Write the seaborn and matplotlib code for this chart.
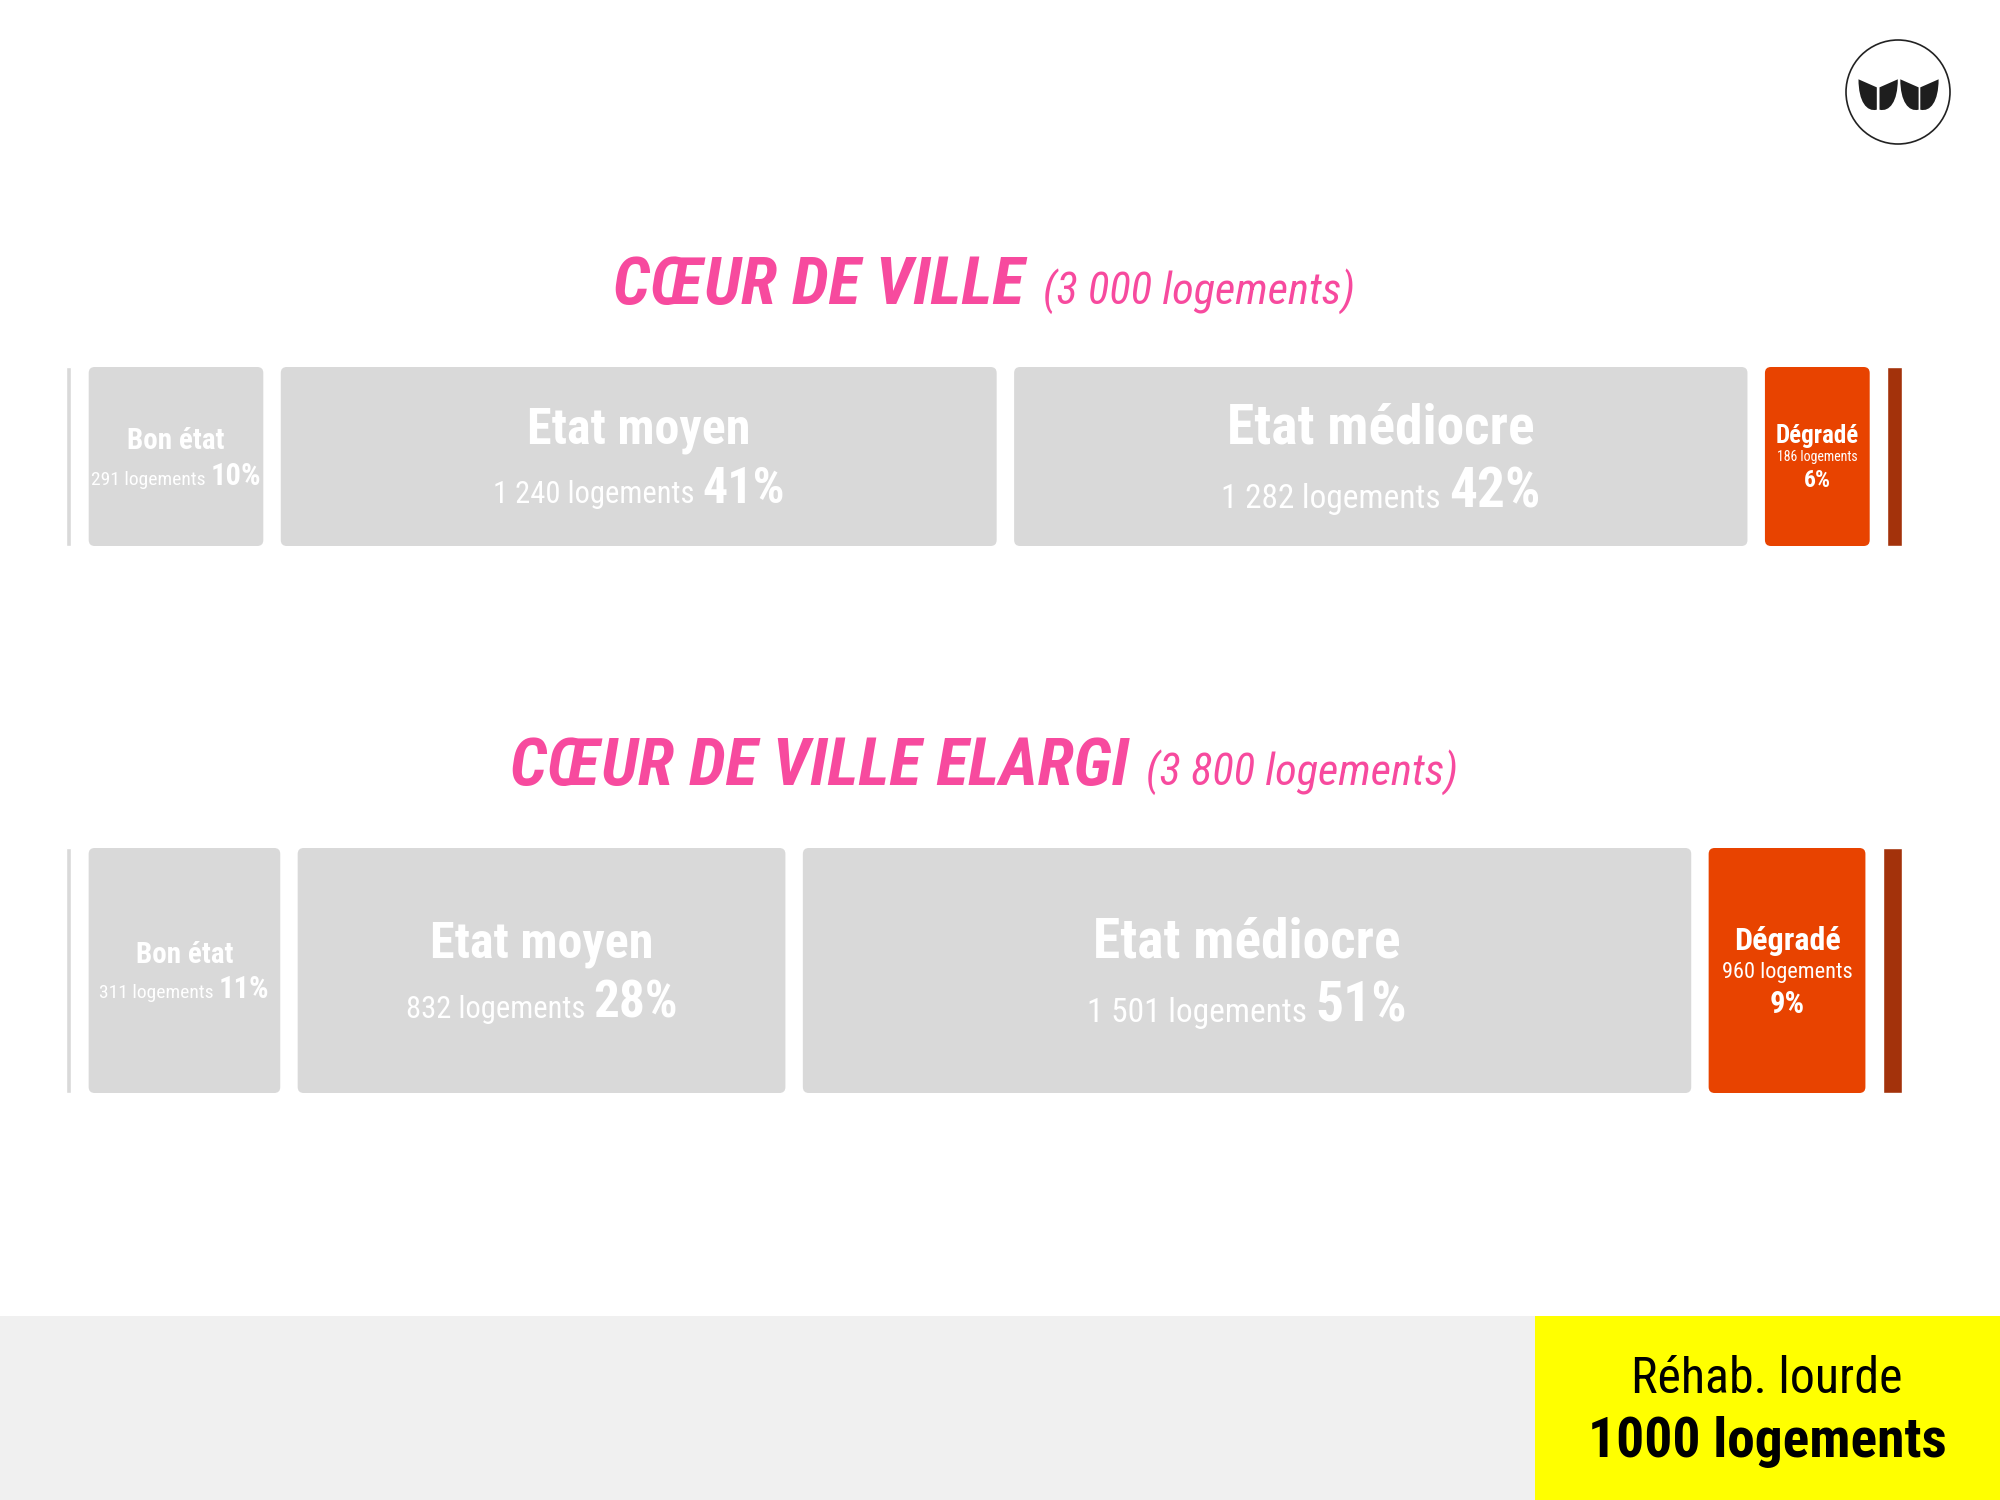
import matplotlib
matplotlib.use("Agg")
import matplotlib.pyplot as plt
import seaborn as sns
import numpy as np
from matplotlib.patches import FancyBboxPatch, Rectangle, Circle, PathPatch
from matplotlib.path import Path

sns.set_theme(style="white")
plt.rcParams["font.family"] = ["Roboto Condensed", "Roboto", "DejaVu Sans"]

# ---- data ----
row_titles = ["CŒUR DE VILLE", "CŒUR DE VILLE ELARGI"]
row_totals = ["3 000", "3 800"]
states = ["Bon état", "Etat moyen", "Etat médiocre", "Dégradé"]
logements_cv = [291, 1240, 1282, 186]
pct_cv = [10, 41, 42, 6]
logements_cve = [311, 832, 1501, 960]
pct_cve = [11, 28, 51, 9]
rehab_label = "Réhab. lourde"
rehab_count = 1000

# ---- style ----
PINK = "#f74a9e"
GREY = "#d9d9d9"
ORANGE = "#e84300"
DARK = "#a3320b"
colors = [GREY, GREY, GREY, ORANGE]
GAP = 1.0
end_width = [0.85, 1.1]

# (head size, sub size, pct size, head dy, sub dy, pct dy) -- dy in px below bar centre
text_style = [
    [(21, 14, 22, -7.5, 28.5, None), (36, 22, 36, -13.5, 46.5, None),
     (40, 24, 40, -13.5, 51.5, None), (18, 10, 17, -14, 4, 30.5)],
    [(21, 14, 22, -7.5, 27.5, None), (36, 22, 37, -12.5, 47.5, None),
     (40, 24, 40, -13.5, 51.5, None), (23, 16, 22, -20.5, 7.5, 42.5)],
]
# axes boxes in px (left, top, width, height)
boxes = [(66, 367, 1836, 179), (66, 848, 1836, 245)]

W, H = 2000, 1500
fig = plt.figure(figsize=(20, 15), dpi=100)
fig.patch.set_facecolor("white")


def fmt(n):
    return f"{n:,}".replace(",", " ")


pairs = []  # (t1, t2, sep) to be centred after a draw

rows = [(logements_cv, pct_cv), (logements_cve, pct_cve)]
for r, (counts, pcts) in enumerate(rows):
    lx, ty, bw, bh = boxes[r]
    ax = fig.add_axes([lx / W, (H - ty - bh) / H, bw / W, bh / H])
    ax.set_xlim(-1.3, sum(pcts) + GAP * len(pcts) + end_width[r])
    ax.set_ylim(-0.5, 0.5)
    ax.axis("off")

    lefts = np.concatenate([[0], np.cumsum(np.array(pcts) + GAP)[:-1]])
    bars = ax.barh(0, pcts, left=lefts, height=1.0, color=colors)
    # edge markers
    ax.barh(0, 0.3, left=-1.3, height=1.0, color=GREY)
    ax.barh(0, end_width[r], left=lefts[-1] + pcts[-1] + GAP, height=1.0, color=DARK)

    # round the corners of the state bars
    xr = ax.get_xlim()
    ppx = bw / (xr[1] - xr[0])
    ppy = bh / 1.0
    rad = 6 / ppx
    for b in bars:
        p = FancyBboxPatch((b.get_x(), b.get_y()), b.get_width(), b.get_height(),
                           boxstyle=f"round,pad=0,rounding_size={rad}",
                           mutation_aspect=ppx / ppy,
                           facecolor=b.get_facecolor(), edgecolor="none")
        b.remove()
        ax.add_patch(p)

    # labels
    for i, state in enumerate(states):
        hs, ss, ps, hdy, sdy, pdy = text_style[r][i]
        xc = lefts[i] + pcts[i] / 2
        ax.annotate(state, (xc, 0), xytext=(0, -hdy), textcoords="offset pixels",
                    ha="center", va="baseline", color="white",
                    fontsize=hs, fontweight="bold")
        sub = f"{fmt(counts[i])} logements"
        pct = f"{pcts[i]}%"
        if pdy is None:
            t1 = ax.annotate(sub, (xc, 0), xytext=(0, -sdy), textcoords="offset pixels",
                             ha="left", va="baseline", color="white", fontsize=ss)
            t2 = ax.annotate(pct, (xc, 0), xytext=(0, -sdy), textcoords="offset pixels",
                             ha="left", va="baseline", color="white", fontsize=ps,
                             fontweight="bold")
            pairs.append((t1, t2, ss * 0.35))
        else:
            ax.annotate(sub, (xc, 0), xytext=(0, -sdy), textcoords="offset pixels",
                        ha="center", va="baseline", color="white", fontsize=ss)
            ax.annotate(pct, (xc, 0), xytext=(0, -pdy), textcoords="offset pixels",
                        ha="center", va="baseline", color="white", fontsize=ps,
                        fontweight="bold")

    # title above the bar
    t1 = ax.annotate(row_titles[r], (0.5, 1), xycoords="axes fraction",
                     xytext=(0, 63), textcoords="offset pixels", ha="left",
                     va="baseline", color=PINK, fontsize=48, fontweight="bold",
                     fontstyle="italic")
    t2 = ax.annotate(f"({row_totals[r]} logements)", (0.5, 1), xycoords="axes fraction",
                     xytext=(0, 63), textcoords="offset pixels", ha="left",
                     va="baseline", color=PINK, fontsize=32, fontstyle="italic")
    pairs.append((t1, t2, 18))

# footer
fig.patches.append(Rectangle((0, 0), 1, 184 / H, transform=fig.transFigure,
                             facecolor="#f0f0f0", edgecolor="none", zorder=0))
fig.patches.append(Rectangle((1535 / W, 0), 1 - 1535 / W, 184 / H, transform=fig.transFigure,
                             facecolor="#ffff00", edgecolor="none", zorder=1))
fig.text(1767 / W, (H - 1393) / H, rehab_label, ha="center", va="baseline",
         fontsize=36, color="black")
fig.text(1767 / W, (H - 1457) / H, f"{rehab_count} logements", ha="center",
         va="baseline", fontsize=40, fontweight="bold", color="black")

# logo
lax = fig.add_axes([(1898 - 56) / W, (H - 92 - 56) / H, 112 / W, 112 / H])
lax.set_xlim(-56, 56)
lax.set_ylim(-56, 56)
lax.axis("off")
lax.add_patch(Circle((0, 0), 52, facecolor="white", edgecolor="#222222", lw=1.2))
leaf = np.array([(0, 1), (1, 0.74), (1, 0.02), (0.45, -0.06), (0, 0.28), (0, 1), (0, 1)])
codes = [Path.MOVETO, Path.LINETO, Path.LINETO, Path.CURVE4, Path.CURVE4, Path.CURVE4,
         Path.CLOSEPOLY]
for x0, mirror in [(-39.5, False), (-18.5, True), (2.3, False), (22.3, True)]:
    pts = leaf.copy()
    if mirror:
        pts[:, 0] = 1 - pts[:, 0]
    pts[:, 0] = x0 + pts[:, 0] * 18.3
    pts[:, 1] = -18.3 + pts[:, 1] * 31
    lax.add_patch(PathPatch(Path(pts, codes), facecolor="#1e1e1e", edgecolor="none"))

# centre the two-part lines
fig.canvas.draw()
rend = fig.canvas.get_renderer()
for t1, t2, sep in pairs:
    w1 = t1.get_window_extent(rend).width
    w2 = t2.get_window_extent(rend).width
    total = w1 + sep + w2
    x1, y1 = t1.xyann
    t1.xyann = (-total / 2, y1)
    t2.xyann = (-total / 2 + w1 + sep, y1)

fig.savefig("out.png", dpi=100)
